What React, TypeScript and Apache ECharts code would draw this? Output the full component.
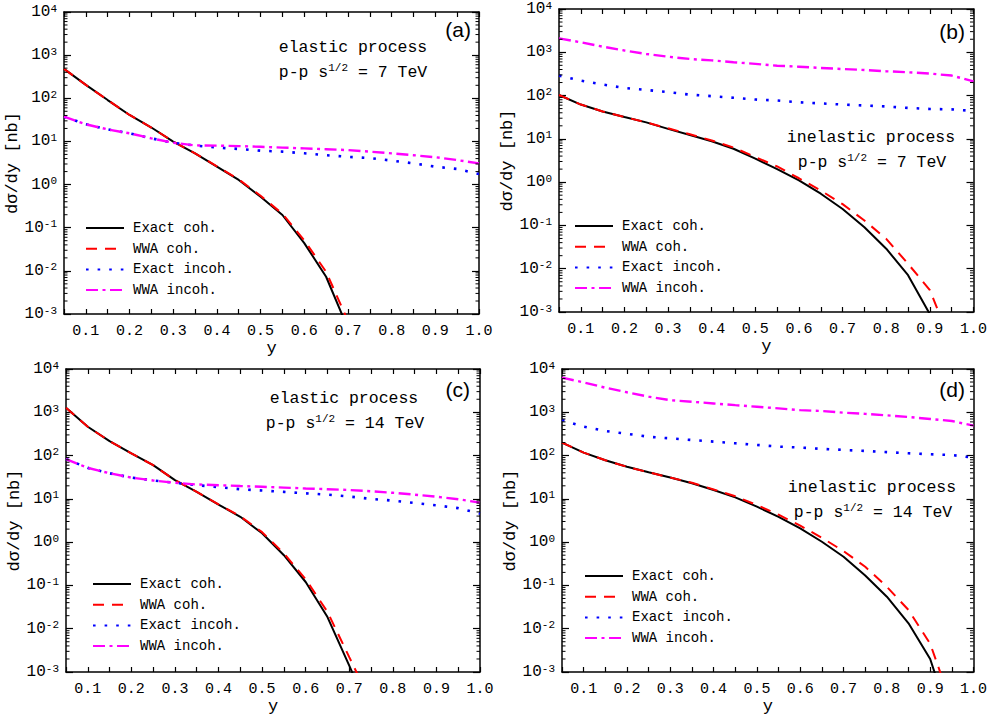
import React, { useEffect, useRef } from 'react';
import * as echarts from 'echarts';

// x values (y = photon energy fraction)
const Y_VALUES = [0.05, 0.1, 0.15, 0.2, 0.25, 0.3, 0.35, 0.4, 0.45, 0.5, 0.55, 0.6, 0.65, 0.7, 0.75, 0.8, 0.85, 0.9, 0.95, 1.0];

// Panel (a): elastic, 7 TeV
const A_EXACT_COH = [480, 204, 91, 41, 21, 9.9, 5.3, 2.6, 1.28, 0.52, 0.197, 0.044, 0.0073, 0.00046, null, null, null, null, null, null];
const A_WWA_COH = [480, 204, 91, 41, 21, 9.9, 5.3, 2.65, 1.32, 0.55, 0.21, 0.051, 0.0095, 0.00069, null, null, null, null, null, null];
const A_EXACT_INCOH = [37.5, 25, 19, 15.4, 11.8, 9.3, 8.0, 7.2, 6.7, 6.1, 5.8, 5.3, 4.8, 4.4, 4.1, 3.6, 3.1, 2.6, 2.3, 1.76];
const A_WWA_INCOH = [37.5, 25, 19, 15.4, 11.8, 9.3, 8.1, 8.0, 7.8, 7.5, 7.2, 6.9, 6.6, 6.3, 5.8, 5.3, 4.8, 4.3, 3.7, 3.1];

// Panel (b): inelastic, 7 TeV
const B_EXACT_COH = [103, 62, 43, 32, 24, 17, 12.3, 8.8, 5.9, 3.5, 2.0, 1.1, 0.54, 0.24, 0.091, 0.029, 0.0071, 0.00089, null, null];
const B_WWA_COH = [103, 62, 43, 32, 24, 17.5, 12.8, 9.2, 6.3, 3.8, 2.3, 1.23, 0.64, 0.31, 0.13, 0.049, 0.013, 0.0032, 0.00018, null];
const B_EXACT_INCOH = [290, 222, 180, 150, 135, 120, 105, 97, 89, 81, 77, 70, 66, 62, 59, 56, 52, 49, 48, 44];
const B_WWA_INCOH = [2100, 1700, 1350, 1100, 915, 790, 700, 650, 590, 540, 490, 465, 435, 410, 390, 365, 345, 322, 290, 213];

// Panel (c): elastic, 14 TeV
const C_EXACT_COH = [1280, 463, 216, 112, 60, 27, 14.5, 7.4, 3.85, 1.6, 0.5, 0.12, 0.0186, 0.0014, 0.0001, null, null, null, null, null];
const C_WWA_COH = [1280, 463, 216, 112, 60, 27, 14.5, 7.5, 3.95, 1.7, 0.55, 0.139, 0.0245, 0.0022, 0.0002, null, null, null, null, null];
const C_EXACT_INCOH = [83, 52, 39, 31, 26.6, 23.5, 20.7, 18.6, 16.7, 15.6, 14.5, 13.4, 12.5, 11.3, 10.0, 9.1, 8.0, 7.1, 6.1, 4.6];
const C_WWA_INCOH = [83, 52, 39, 31, 26.6, 23.5, 21.5, 20.7, 19.8, 19, 18.2, 17.4, 16.7, 16, 15, 13.8, 12.5, 11.2, 9.8, 8.2];

// Panel (d): inelastic, 14 TeV
const D_EXACT_COH = [200, 117, 78, 55, 41, 31, 23, 16, 10.8, 6.6, 3.85, 2.07, 1.02, 0.46, 0.17, 0.055, 0.0133, 0.002, 0.00006, null];
const D_WWA_COH = [200, 117, 78, 55, 41, 31, 23.5, 16.5, 11.5, 7.2, 4.3, 2.4, 1.26, 0.62, 0.27, 0.093, 0.027, 0.0045, 0.00017, null];
const D_EXACT_INCOH = [660, 465, 370, 318, 272, 250, 229, 210, 192, 176, 161, 153, 143, 135, 128, 120, 113, 107, 103, 89];
const D_WWA_INCOH = [6300, 4900, 3700, 2900, 2300, 1900, 1750, 1600, 1460, 1340, 1230, 1120, 1070, 980, 920, 850, 780, 700, 630, 490];

const SERIES_NAMES = ['Exact coh.', 'WWA coh.', 'Exact incoh.', 'WWA incoh.'];
const PANEL_TAGS = ['(a)', '(b)', '(c)', '(d)'];
const PANEL_TEXT_1 = ['elastic process', 'inelastic process', 'elastic process', 'inelastic process'];
const PANEL_TEXT_2 = ['p-p s{s|1/2} = 7 TeV', 'p-p s{s|1/2} = 7 TeV', 'p-p s{s|1/2} = 14 TeV', 'p-p s{s|1/2} = 14 TeV'];
const Y_AXIS_NAME = 'dσ/dy [nb]';
const X_AXIS_NAME = 'y';

const X_MIN = 0.05;
const X_MAX = 1.0;
const Y_MIN = 1e-3;
const Y_MAX = 1e4;

const MONO = '"Liberation Mono", "DejaVu Sans Mono", monospace';

const LINE_STYLES = [
  { color: '#000000', width: 2, type: 'solid' as any },
  { color: '#ff0000', width: 2, type: [11, 8] as any },
  { color: '#0000ff', width: 2.6, type: [2.6, 9] as any },
  { color: '#ff00ff', width: 2.4, type: [12, 4.5, 3, 4.5] as any },
];

const LAYOUT = [
  { grid: { left: 64, top: 12, width: 415, height: 302 }, legend: [85, 221], tag: [471, 29], t1: [353, 47], t2: [353, 72] },
  { grid: { left: 559, top: 9, width: 415, height: 303 }, legend: [574, 219], tag: [965, 31], t1: [871, 137], t2: [872, 162] },
  { grid: { left: 66, top: 369, width: 414, height: 303 }, legend: [92, 577], tag: [470, 389], t1: [344, 398], t2: [345, 423] },
  { grid: { left: 562, top: 369, width: 413, height: 303 }, legend: [584, 569], tag: [965, 389], t1: [872, 487], t2: [873, 512] },
];

function buildMinorTicks(): number[] {
  const out: number[] = [];
  for (let e = -3; e < 4; e++) {
    for (let m = 2; m <= 9; m++) out.push(m * Math.pow(10, e));
  }
  return out;
}

export default function App() {
  const ref = useRef<HTMLDivElement>(null);

  useEffect(() => {
    if (!ref.current) return;
    const chart = echarts.init(ref.current, undefined, { renderer: 'svg' });
    const panelsData = [
      [A_EXACT_COH, A_WWA_COH, A_EXACT_INCOH, A_WWA_INCOH],
      [B_EXACT_COH, B_WWA_COH, B_EXACT_INCOH, B_WWA_INCOH],
      [C_EXACT_COH, C_WWA_COH, C_EXACT_INCOH, C_WWA_INCOH],
      [D_EXACT_COH, D_WWA_COH, D_EXACT_INCOH, D_WWA_INCOH],
    ];
    const minor = buildMinorTicks();

    const grids: any[] = [];
    const xAxes: any[] = [];
    const yAxes: any[] = [];
    const series: any[] = [];
    const legends: any[] = [];
    const graphics: any[] = [];

    const axisLine = { show: true, onZero: false, lineStyle: { color: '#000', width: 1.5 } };
    const yLabelRich = {
      b: { fontFamily: MONO, fontSize: 16, color: '#000', lineHeight: 18, verticalAlign: 'middle' },
      s: { fontFamily: MONO, fontSize: 11, color: '#000', lineHeight: 10, verticalAlign: 'top' },
    };

    LAYOUT.forEach((lay, i) => {
      grids.push({ ...lay.grid, containLabel: false });
      const xCommon = {
        type: 'value', gridIndex: i, min: X_MIN, max: X_MAX, interval: 0.05,
        axisLine, splitLine: { show: false },
        axisTick: { show: true, inside: true, length: 5, lineStyle: { color: '#000', width: 1.2 } },
      };
      xAxes.push({
        ...xCommon, position: 'bottom',
        axisLabel: {
          show: true, margin: 10, fontFamily: MONO, fontSize: 15, color: '#000',
          formatter: (v: number) => {
            const k = Math.round(v * 100);
            return k % 10 === 0 ? (k / 100).toFixed(1) : '';
          },
        },
        name: X_AXIS_NAME, nameLocation: 'middle', nameGap: 25,
        nameTextStyle: { fontFamily: MONO, fontSize: 17, color: '#000' },
      });
      xAxes.push({ ...xCommon, position: 'top', axisLabel: { show: false } });

      const yCommon = {
        type: 'log', logBase: 10, gridIndex: i, min: Y_MIN, max: Y_MAX, splitNumber: 7,
        axisLine, splitLine: { show: false }, minorTick: { show: false },
        axisTick: { show: true, inside: true, length: 7, lineStyle: { color: '#000', width: 1.2 } },
      };
      yAxes.push({
        ...yCommon, position: 'left',
        axisLabel: {
          show: true, margin: 7,
          formatter: (v: number) => `{b|10}{s|${Math.round(Math.log10(v))}}`,
          rich: yLabelRich,
        },
        name: Y_AXIS_NAME, nameLocation: 'middle', nameGap: 33, nameRotate: 90,
        nameTextStyle: { fontFamily: MONO, fontSize: 17, color: '#000' },
      });
      yAxes.push({ ...yCommon, position: 'right', axisLabel: { show: false } });

      panelsData[i].forEach((arr, k) => {
        const data: number[][] = [];
        Y_VALUES.forEach((x, j) => {
          const v = arr[j];
          if (v !== null && v !== undefined) data.push([x, v as number]);
        });
        series.push({
          type: 'line', name: SERIES_NAMES[k], xAxisIndex: 2 * i, yAxisIndex: 2 * i,
          data, symbol: 'none', showSymbol: false, clip: true, smooth: false,
          lineStyle: { ...LINE_STYLES[k], cap: 'butt' },
          itemStyle: { color: LINE_STYLES[k].color },
          z: 3 + k,
        });
      });

      series.push({
        type: 'custom', xAxisIndex: 2 * i, yAxisIndex: 2 * i, silent: true, z: 10,
        data: minor.map((v) => [X_MIN, v]),
        renderItem: (_p: any, api: any) => {
          const v = api.value(1);
          const pl = api.coord([X_MIN, v]);
          const pr = api.coord([X_MAX, v]);
          const st = { stroke: '#000', lineWidth: 1 };
          return {
            type: 'group',
            children: [
              { type: 'line', shape: { x1: pl[0], y1: pl[1], x2: pl[0] + 3.5, y2: pl[1] }, style: st },
              { type: 'line', shape: { x1: pr[0] - 3.5, y1: pr[1], x2: pr[0], y2: pr[1] }, style: st },
            ],
          };
        },
      });

      legends.push({
        orient: 'vertical', left: lay.legend[0], top: lay.legend[1], padding: 0,
        itemWidth: 38, itemHeight: 14, itemGap: 6.7, selectedMode: false,
        data: SERIES_NAMES,
        itemStyle: { opacity: 0 },
        textStyle: { fontFamily: MONO, fontSize: 14, color: '#000', lineHeight: 14, padding: [0, 0, 0, 4] },
      });

      graphics.push({
        type: 'text', x: lay.tag[0], y: lay.tag[1],
        style: { text: PANEL_TAGS[i], font: '21px "Liberation Sans", Arial, sans-serif', fill: '#000', align: 'right', verticalAlign: 'middle' },
      });
      graphics.push({
        type: 'text', x: lay.t1[0], y: lay.t1[1],
        style: { text: PANEL_TEXT_1[i], fontFamily: MONO, fontSize: 16.5, fill: '#000', align: 'center', verticalAlign: 'middle' },
      });
      graphics.push({
        type: 'text', x: lay.t2[0], y: lay.t2[1],
        style: {
          text: PANEL_TEXT_2[i], fontFamily: MONO, fontSize: 16.5, fill: '#000', align: 'center', verticalAlign: 'middle', lineHeight: 20,
          rich: { s: { fontFamily: MONO, fontSize: 11, fill: '#000', lineHeight: 10, verticalAlign: 'top' } },
        },
      });
    });

    chart.setOption({
      animation: false,
      backgroundColor: '#ffffff',
      grid: grids,
      xAxis: xAxes,
      yAxis: yAxes,
      series,
      legend: legends,
      graphic: graphics,
    });

    return () => chart.dispose();
  }, []);

  return <div ref={ref} style={{ position: 'absolute', left: 0, top: 0, width: 990, height: 717 }} />;
}
